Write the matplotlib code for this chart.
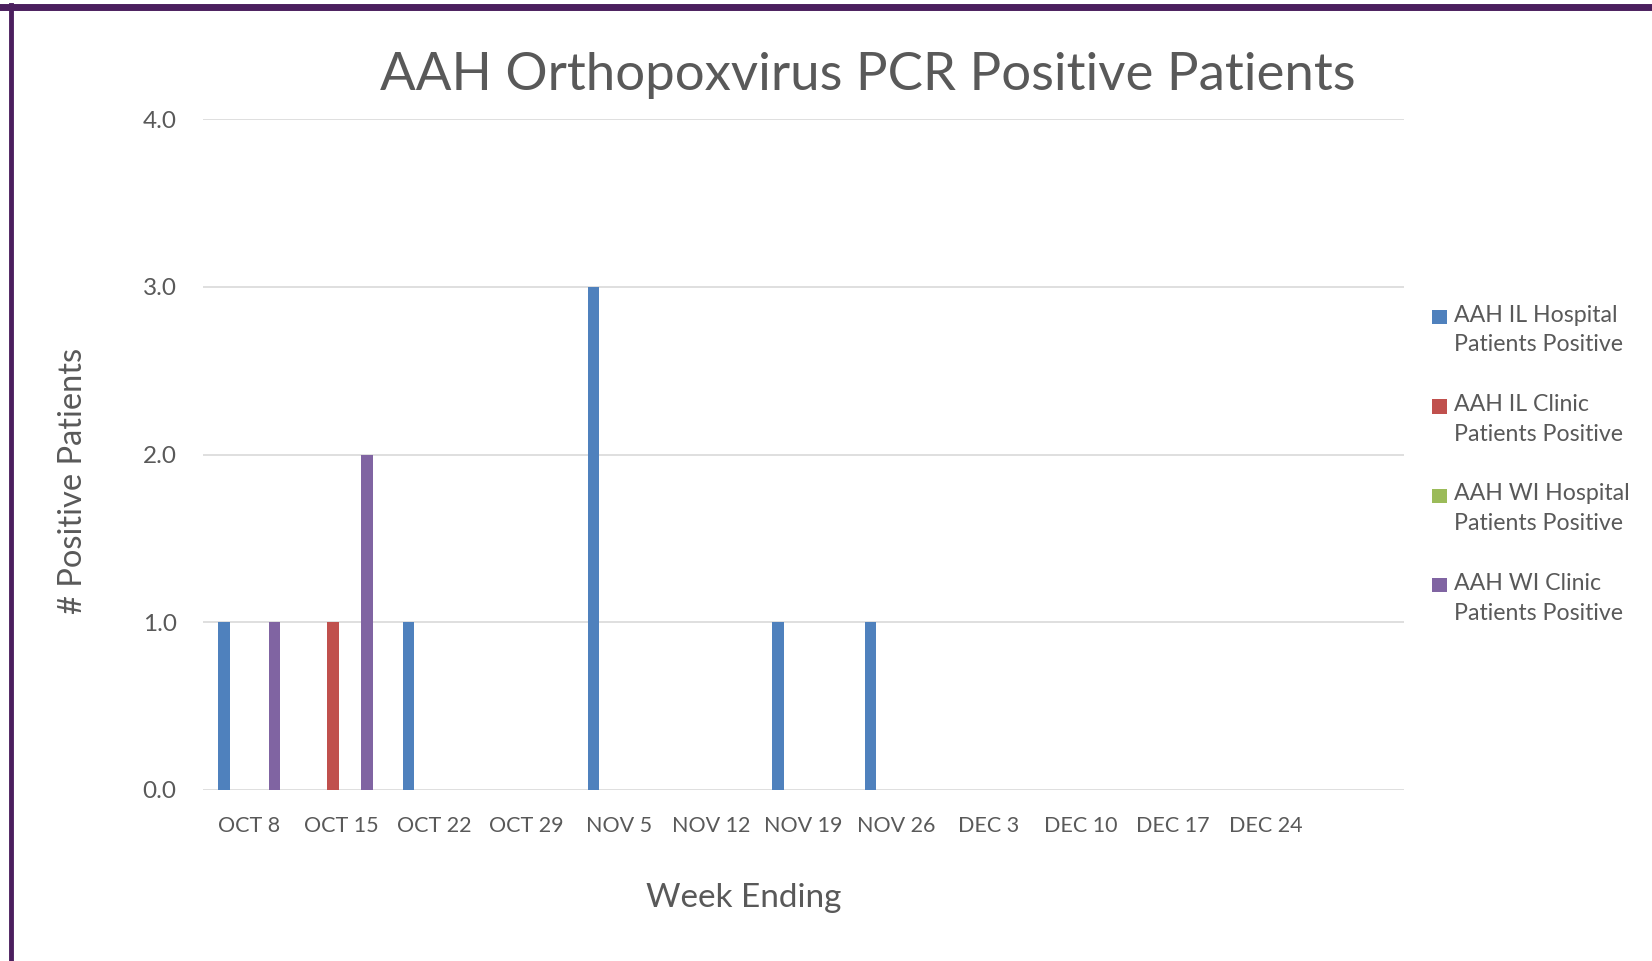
import numpy as np
import matplotlib
matplotlib.use("Agg")
import matplotlib.pyplot as plt
from matplotlib.lines import Line2D
from matplotlib.patches import Rectangle
from matplotlib.container import BarContainer
from matplotlib.legend_handler import HandlerPatch

plt.rcParams["font.family"] = ["Lato", "DejaVu Sans"]

# Data
weeks = ["OCT 8", "OCT 15", "OCT 22", "OCT 29", "NOV 5", "NOV 12",
         "NOV 19", "NOV 26", "DEC 3", "DEC 10", "DEC 17", "DEC 24"]
il_hospital = [1, 0, 1, 0, 3, 0, 1, 1, 0, 0, 0, 0]
il_clinic = [0, 1, 0, 0, 0, 0, 0, 0, 0, 0, 0, 0]
wi_hospital = [0, 0, 0, 0, 0, 0, 0, 0, 0, 0, 0, 0]
wi_clinic = [1, 2, 0, 0, 0, 0, 0, 0, 0, 0, 0, 0]

series = [
    ("AAH IL Hospital\nPatients Positive", il_hospital, "#4F81BD"),
    ("AAH IL Clinic\nPatients Positive", il_clinic, "#C0504D"),
    ("AAH WI Hospital\nPatients Positive", wi_hospital, "#9BBB59"),
    ("AAH WI Clinic\nPatients Positive", wi_clinic, "#8064A2"),
]

fig = plt.figure(figsize=(16.52, 9.61), dpi=100)
ax = fig.add_axes([0.1229, 0.178, 0.727, 0.698])

x = np.arange(len(weeks))
step = 0.183
width = 0.125
for i, (name, vals, color) in enumerate(series):
    ax.bar(x + (i - 1.5) * step, vals, width=width, color=color, label=name, zorder=3)

ax.set_xlim(-0.5, 12.5)
ax.set_ylim(0, 4)
ax.set_yticks([0, 1, 2, 3, 4])
ax.set_yticklabels(["0.0", "1.0", "2.0", "3.0", "4.0"])
ax.set_xticks(x)
ax.set_xticklabels(weeks)
ax.tick_params(length=0, colors="#595959")
ax.tick_params(axis="x", labelsize=15.5, pad=19)
ax.tick_params(axis="y", labelsize=17.5, pad=19)
ax.grid(axis="y", color="#D9D9D9", linewidth=1.2, zorder=0)
for s in ax.spines.values():
    s.set_visible(False)

fig.text(0.525, 0.921, "AAH Orthopoxvirus PCR Positive Patients", ha="center", va="center",
         fontsize=38, color="#595959")
fig.text(0.45, 0.066, "Week Ending", ha="center", va="center", fontsize=24, color="#595959")
fig.text(0.044, 0.5, "# Positive Patients", ha="center", va="center", rotation=90,
         fontsize=23.5, color="#595959")


# small square aligned with the first line of each legend entry
def top_square(legend, orig_handle, xdescent, ydescent, width, height, fontsize):
    size = 0.62 * fontsize
    return Rectangle((-xdescent, -ydescent + height - size + 0.05 * fontsize), size, size)


handler = HandlerPatch(patch_func=top_square,
                       update_func=lambda h, orig: h.update_from(orig.patches[0]))
leg = fig.legend(loc="upper left", bbox_to_anchor=(0.867, 0.683), frameon=False,
                 fontsize=16.7, labelcolor="#595959", handlelength=0.62, handleheight=2.3,
                 handletextpad=0.3, labelspacing=1.66, borderaxespad=0, borderpad=0,
                 handler_map={BarContainer: handler})
for t in leg.get_texts():
    t.set_linespacing(1.52)

# purple frame (top and left edges)
fig.add_artist(Line2D([0, 1], [0.993, 0.993], color="#4B1F5E", linewidth=5, transform=fig.transFigure))
fig.add_artist(Line2D([0.0065, 0.0065], [0, 0.995], color="#4B1F5E", linewidth=3.5, transform=fig.transFigure))

fig.savefig("out.png", dpi=100)
